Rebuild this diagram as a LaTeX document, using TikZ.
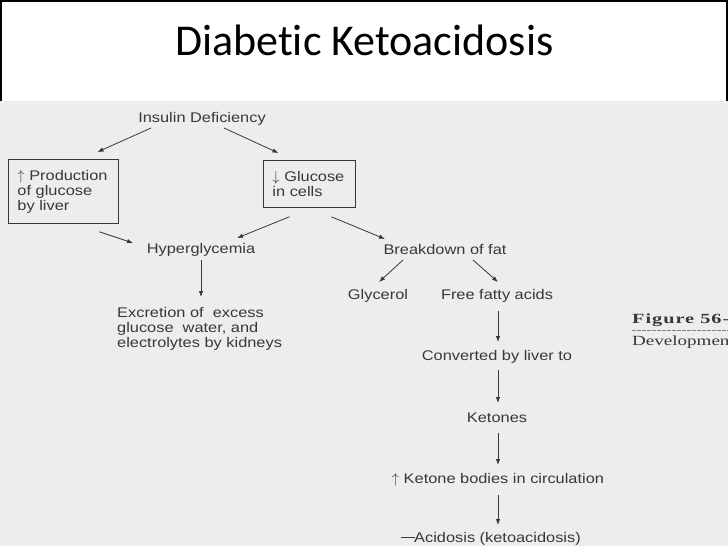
\documentclass[tikz,border=0pt]{standalone}
\usepackage{fontspec}
\usetikzlibrary{calc,arrows.meta}
\newfontfamily\titlefont[Ligatures={NoCommon}]{Carlito}
\newfontfamily\scanfont[FakeStretch=1.17]{Liberation Sans}
\newfontfamily\figfont[FakeStretch=1.45,LetterSpace=7]{Liberation Serif}
\newfontfamily\capfont[FakeStretch=1.36]{Liberation Serif}
\definecolor{scangray}{HTML}{EDEDEB}
\definecolor{inkgray}{HTML}{383838}
\tikzset{
  flow/.style={inner sep=0pt,text=inkgray,anchor=base,font=\scanfont\fontsize{14}{15}\selectfont},
  flowbox/.style={flow,draw=inkgray,line width=0.8pt,align=left,anchor=north west,inner xsep=9pt},
  link/.style={->,draw=inkgray,line width=0.8pt}
}

\begin{document}
\begin{tikzpicture}[x=1pt,y=-1pt,>={Latex[length=6pt,width=4.5pt]}]
  \useasboundingbox (0,0) rectangle (728,546);
  \clip (0,0) rectangle (728,546);
  % slide frame and scanned page
  \fill[white] (0,0) rectangle (728,101);
  \fill[scangray] (0,101) rectangle (728,546);
  \draw[line width=2pt] (1,101)--(1,1)--(727,1)--(727,101);
  \node[font=\titlefont\fontsize{44}{48}\selectfont,anchor=base west,inner sep=0pt] (title) at (175,55) {Diabetic Ketoacidosis};

  % flow chart
  \node[flow] (insulin) at (202,122) {Insulin Deficiency};
  \node[flowbox,text width=92pt,minimum height=64pt] (prodbox) at (8,159) {$\uparrow$ Production\\of glucose\\by liver};
  \node[flowbox,text width=74pt,minimum height=47pt] (glubox) at (263,160) {$\downarrow$ Glucose\\in cells};
  \node[flow] (hyper) at (201,253) {Hyperglycemia};
  \node[flow,align=left,anchor=north west] (excretion) at (117,307) {Excretion of\ \ excess\\glucose\ \ water, and\\electrolytes by kidneys};
  \node[flow] (breakdown) at (445,254) {Breakdown of fat};
  \node[flow] (glycerol) at (378,299) {Glycerol};
  \node[flow] (ffa) at (497,299) {Free fatty acids};
  \node[flow] (converted) at (497,360) {Converted by liver to};
  \node[flow] (ketones) at (497,422) {Ketones};
  \node[flow] (ketbodies) at (498,483) {$\uparrow$ Ketone bodies in circulation};
  \node[flow] (acidosis) at (491,542) {\rule[0.3em]{14pt}{0.6pt}\kern-1pt Acidosis (ketoacidosis)};

  \draw[link] ($(insulin.base)+(-51,6)$) -- ($(prodbox.north)+(34,-7)$);
  \draw[link] ($(insulin.base)+(22,6)$) -- ($(glubox.north)+(-31,-7)$);
  \draw[link] ($(prodbox.south)+(36,8)$) -- ($(hyper.base)+(-68,-10)$);
  \draw[link] ($(glubox.south)+(-20,9)$) -- ($(hyper.base)+(36,-15)$);
  \draw[link] ($(glubox.south)+(22,9)$) -- ($(breakdown.base)+(-60,-15)$);
  \draw[link] ($(hyper.base)+(0,7)$) -- ($(excretion.north west)+(84,-10)$);
  \draw[link] ($(breakdown.base)+(-42,6)$) -- ($(glycerol.base)+(1,-17)$);
  \draw[link] ($(breakdown.base)+(28,6)$) -- ($(ffa.base)+(1,-17)$);
  \draw[link] ($(ffa.base)+(1,12)$) -- ($(converted.base)+(1,-18)$);
  \draw[link] ($(converted.base)+(1,10)$) -- ($(ketones.base)+(1,-19)$);
  \draw[link] ($(ketones.base)+(1,11)$) -- ($(ketbodies.base)+(0,-18)$);
  \draw[link] ($(ketbodies.base)+(0,12)$) -- ($(acidosis.base)+(7,-17)$);

  % figure caption from the book page
  \node[anchor=base west,inner sep=0pt,text=inkgray,font=\figfont\bfseries\fontsize{14}{16}\selectfont] (figlabel) at (632,323) {Figure 56-6};
  \draw[gray,line width=0.5pt,dash pattern=on 4pt off 1pt] ($(figlabel.base west)+(0,7)$) -- ++(100,0);
  \node[anchor=base west,inner sep=0pt,text=inkgray,font=\capfont\fontsize{14}{16}\selectfont] (figcaption) at (632,345) {Development};
\end{tikzpicture}
\end{document}
